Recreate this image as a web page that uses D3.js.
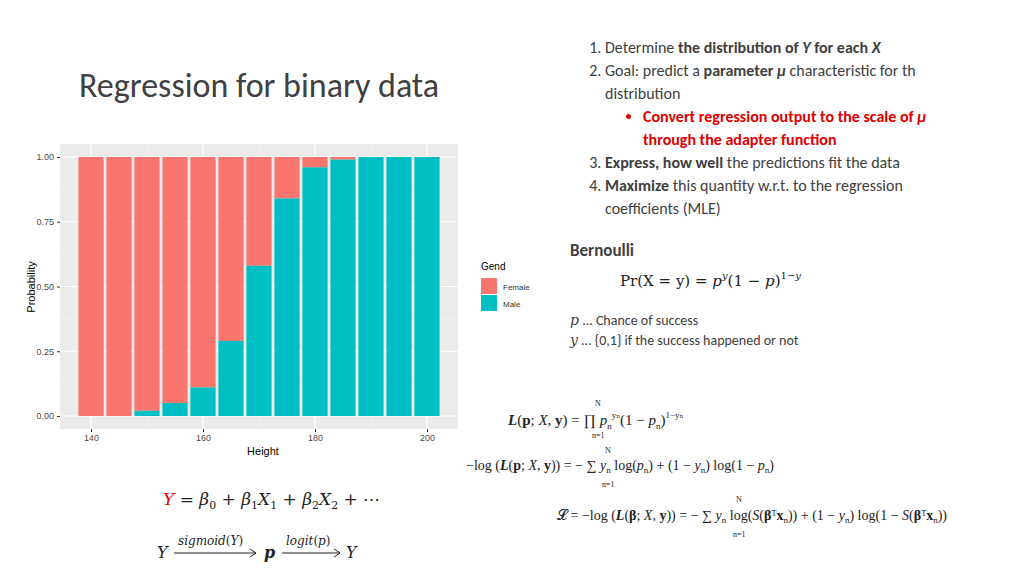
<!DOCTYPE html><html><head><meta charset="utf-8"><script src="https://cdn.jsdelivr.net/npm/d3@7"></script>
<style>body{margin:0;background:#fff;font-family:Calibri,Carlito,'Open Sans',sans-serif}</style></head><body>
<svg id="s" width="1024" height="576"></svg>
<script>
const heights=[140,145,150,155,160,165,170,175,180,185,190,195,200];
const male=[0,0,0.02,0.05,0.11,0.29,0.58,0.84,0.96,0.99,1,1,1];
const yTicks=[0,0.25,0.5,0.75,1];
const xTicks=[140,160,180,200];
const svg=d3.select("#s");
const x=d3.scaleLinear().domain([140,200]).range([91,427]);
const y=d3.scaleLinear().domain([0,1]).range([416,157]);
const P={l:60,r:458,t:144,b:429};
svg.append("rect").attr("x",P.l).attr("y",P.t).attr("width",P.r-P.l).attr("height",P.b-P.t).attr("fill","#ebebeb");
[0.125,0.375,0.625,0.875].forEach(v=>svg.append("line").attr("x1",P.l).attr("x2",P.r).attr("y1",y(v)).attr("y2",y(v)).attr("stroke","#f5f5f5").attr("stroke-width",0.6));
[150,170,190].forEach(v=>svg.append("line").attr("y1",P.t).attr("y2",P.b).attr("x1",x(v)).attr("x2",x(v)).attr("stroke","#f5f5f5").attr("stroke-width",0.6));
yTicks.forEach(v=>svg.append("line").attr("x1",P.l).attr("x2",P.r).attr("y1",y(v)).attr("y2",y(v)).attr("stroke","#fff").attr("stroke-width",1.2));
xTicks.forEach(v=>svg.append("line").attr("y1",P.t).attr("y2",P.b).attr("x1",x(v)).attr("x2",x(v)).attr("stroke","#fff").attr("stroke-width",1.2));
const bw=x(144.5)-x(140);
heights.forEach((h,i)=>{
 svg.append("rect").attr("x",x(h)-bw/2).attr("width",bw).attr("y",y(1)).attr("height",y(male[i])-y(1)).attr("fill","#f8766d");
 svg.append("rect").attr("x",x(h)-bw/2).attr("width",bw).attr("y",y(male[i])).attr("height",y(0)-y(male[i])).attr("fill","#00bfc4");
});
const ya=svg.append("g").attr("transform",`translate(${P.l},0)`).call(d3.axisLeft(y).tickValues(yTicks).tickFormat(d3.format(".2f")).tickSize(3));
const xa=svg.append("g").attr("transform",`translate(0,${P.b})`).call(d3.axisBottom(x).tickValues(xTicks).tickSize(3));
[ya,xa].forEach(a=>{a.select(".domain").remove();a.selectAll("line").attr("stroke","#333");a.selectAll("text").attr("fill","#4d4d4d").attr("font-family","Arial,'Liberation Sans'").attr("font-size",9);});
svg.append("text").attr("x",263).attr("y",455).attr("text-anchor","middle").attr("font-family","Arial,'Liberation Sans'").attr("font-size",11).text("Height");
svg.append("text").attr("transform","translate(35,287) rotate(-90)").attr("text-anchor","middle").attr("font-family","Arial,'Liberation Sans'").attr("font-size",11).text("Probability");
svg.append("text").attr("x",481).attr("y",270).attr("font-family","Arial,'Liberation Sans'").attr("font-size",10).text("Gend");
[["Female","#f8766d"],["Male","#00bfc4"]].forEach((d,i)=>{
 svg.append("rect").attr("x",481).attr("y",278+i*17).attr("width",16).attr("height",16).attr("fill",d[1]);
 svg.append("text").attr("x",503).attr("y",290+i*17).attr("font-family","Arial,'Liberation Sans'").attr("font-size",8).attr("fill","#333").text(d[0]);
});
svg.append("text").attr("x",79).attr("y",97).attr("font-size",34).attr("fill","#404040").text("Regression for binary data");
const fo=svg.append("foreignObject").attr("x",570).attr("y",36).attr("width",400).attr("height",190);
fo.append("xhtml:div").style("font-size","16px").style("color","#404040").style("line-height","23px").html(`
<ol style="margin:0;padding-left:35px">
<li>Determine <b>the distribution of <i>Y</i> for each <i>X</i></b></li>
<li>Goal: predict a <b>parameter <i>μ</i></b> characteristic for th distribution
<ul style="margin:0;padding-left:38px;list-style:disc"><li style="color:#e00000;font-weight:bold">Convert regression output to the scale of <i>μ</i> through the adapter function</li></ul></li>
<li><b>Express, how well</b> the predictions fit the data</li>
<li><b>Maximize</b> this quantity w.r.t. to the regression coefficients (MLE)</li></ol>`);
const T=(x,yy,s,t,o={})=>{const e=svg.append("text").attr("x",x).attr("y",yy).attr("font-size",s).attr("fill",o.fill||"#222").attr("font-family",o.ff||"Calibri,Carlito,'Open Sans',sans-serif").attr("font-weight",o.fw||"normal").attr("font-style",o.fs||"normal");e.html(t);return e;};
T(570,256,17,"Bernoulli",{fw:"bold",fill:"#404040"});
T(620,286,15,"Pr(X = y) = <tspan font-style='italic'>p</tspan><tspan dy='-7' font-size='10' font-style='italic'>y</tspan><tspan dy='7'>(1 − </tspan><tspan font-style='italic'>p</tspan>)<tspan dy='-7' font-size='10'>1−<tspan font-style='italic'>y</tspan></tspan>",{ff:"'DejaVu Serif',serif"});
T(570,325,14,"<tspan font-style='italic' font-family='DejaVu Serif'>p</tspan> ... Chance of success",{fill:"#404040"});
T(570,345,14,"<tspan font-style='italic' font-family='DejaVu Serif'>y</tspan> ... {0,1} if the success happened or not",{fill:"#404040"});
const S="'Liberation Serif','DejaVu Serif',serif";
T(508,425,15,"<tspan font-style='italic' font-weight='bold'>L</tspan>(<tspan font-weight='bold'>p</tspan>; <tspan font-style='italic'>X</tspan>, <tspan font-weight='bold'>y</tspan>) = ∏ <tspan font-style='italic'>p</tspan><tspan dy='4' font-size='9'>n</tspan><tspan dy='-11' font-size='9'>yₙ</tspan><tspan dy='7'>(1 − </tspan><tspan font-style='italic'>p</tspan><tspan dy='4' font-size='9'>n</tspan><tspan dy='-4'>)</tspan><tspan dy='-7' font-size='9'>1−yₙ</tspan>",{ff:S});
T(466,470,14,"−log (<tspan font-style='italic' font-weight='bold'>L</tspan>(<tspan font-weight='bold'>p</tspan>; <tspan font-style='italic'>X</tspan>, <tspan font-weight='bold'>y</tspan>)) = − ∑ <tspan font-style='italic'>y</tspan><tspan font-size='9' dy='3'>n</tspan><tspan dy='-3'> log(<tspan font-style='italic'>p</tspan></tspan><tspan font-size='9' dy='3'>n</tspan><tspan dy='-3'>) + (1 − <tspan font-style='italic'>y</tspan></tspan><tspan font-size='9' dy='3'>n</tspan><tspan dy='-3'>) log(1 − <tspan font-style='italic'>p</tspan></tspan><tspan font-size='9' dy='3'>n</tspan><tspan dy='-3'>)</tspan>",{ff:S});
T(557,520,14,"𝓛 = −log (<tspan font-style='italic' font-weight='bold'>L</tspan>(<tspan font-weight='bold'>β</tspan>; <tspan font-style='italic'>X</tspan>, <tspan font-weight='bold'>y</tspan>)) = − ∑ <tspan font-style='italic'>y</tspan><tspan font-size='9' dy='3'>n</tspan><tspan dy='-3'> log(<tspan font-style='italic'>S</tspan>(<tspan font-weight='bold'>β</tspan>ᵀ<tspan font-weight='bold'>x</tspan></tspan><tspan font-size='9' dy='3'>n</tspan><tspan dy='-3'>)) + (1 − <tspan font-style='italic'>y</tspan></tspan><tspan font-size='9' dy='3'>n</tspan><tspan dy='-3'>) log(1 − <tspan font-style='italic'>S</tspan>(<tspan font-weight='bold'>β</tspan>ᵀ<tspan font-weight='bold'>x</tspan></tspan><tspan font-size='9' dy='3'>n</tspan><tspan dy='-3'>))</tspan>",{ff:S});
[[595,406,"N"],[592,438,"n=1"],[605,453,"N"],[602,487,"n=1"],[736,502,"N"],[733,537,"n=1"]].forEach(d=>T(d[0],d[1],8,d[2],{ff:S}));
T(163,505,17,"<tspan fill='#e00000' font-style='italic'>Y</tspan> = <tspan font-style='italic'>β</tspan><tspan font-size='11' dy='4'>0</tspan><tspan dy='-4'> + </tspan><tspan font-style='italic'>β</tspan><tspan font-size='11' dy='4'>1</tspan><tspan dy='-4' font-style='italic'>X</tspan><tspan font-size='11' dy='4'>1</tspan><tspan dy='-4'> + </tspan><tspan font-style='italic'>β</tspan><tspan font-size='11' dy='4'>2</tspan><tspan dy='-4' font-style='italic'>X</tspan><tspan font-size='11' dy='4'>2</tspan><tspan dy='-4'> + ⋯</tspan>",{ff:"'DejaVu Serif',serif"});
T(157,558,16,"<tspan font-style='italic'>Y</tspan>",{ff:"'DejaVu Serif',serif"});
T(264,558,16,"<tspan font-style='italic' font-weight='bold'>p</tspan>",{ff:"'DejaVu Serif',serif"});
T(346,558,16,"<tspan font-style='italic'>Y</tspan>",{ff:"'DejaVu Serif',serif"});
T(178,545,12,"<tspan font-style='italic'>sigmoid</tspan>(<tspan font-style='italic'>Y</tspan>)",{ff:"'DejaVu Serif',serif"});
T(286,545,12,"<tspan font-style='italic'>logit</tspan>(<tspan font-style='italic'>p</tspan>)",{ff:"'DejaVu Serif',serif"});
[[174,256],[282,340]].forEach(a=>{svg.append("line").attr("x1",a[0]).attr("x2",a[1]).attr("y1",553).attr("y2",553).attr("stroke","#222");svg.append("path").attr("d",`M${a[1]-6},549 L${a[1]},553 L${a[1]-6},557`).attr("fill","none").attr("stroke","#222");});
</script></body></html>
